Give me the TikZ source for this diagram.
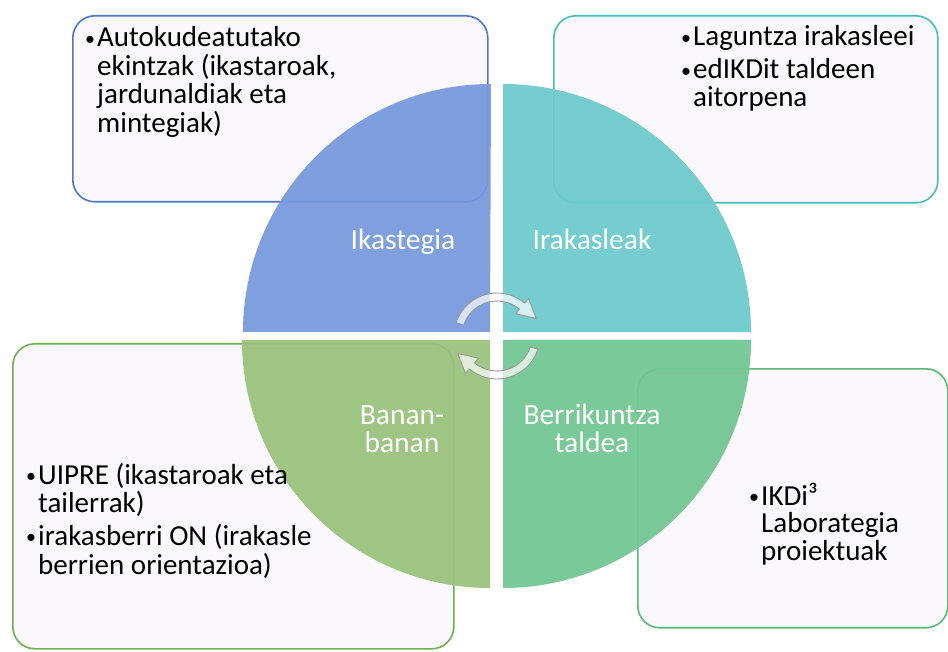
\documentclass[tikz,border=0pt]{standalone}
\usepackage{fontspec}
\setmainfont{Carlito}
\definecolor{boxfill}{HTML}{FAF8FD}
\definecolor{ikasline}{HTML}{4D77CC}
\definecolor{ikasfill}{HTML}{7799DD}
\definecolor{irakline}{HTML}{44BCBE}
\definecolor{irakfill}{HTML}{6DCACC}
\definecolor{bananline}{HTML}{70B04C}
\definecolor{bananfill}{HTML}{99C27B}
\definecolor{berriline}{HTML}{58BD72}
\definecolor{berrifill}{HTML}{72C692}
\newcommand{\listbullet}{\makebox[12pt][l]{\raisebox{1.5pt}{\fontsize{20}{20}\selectfont\textbullet}}}

\begin{document}
\begin{tikzpicture}[x=1pt,y=-1pt]
	\tikzstyle{every node}=[font=\fontsize{29}{25}\selectfont, inner sep=0pt]
	\tikzstyle{box}=[rectangle, draw, line width=1.6pt, rounded corners=22pt, fill=boxfill, anchor=north west]
	\tikzstyle{quarter}=[fill opacity=0.94]
	\tikzstyle{quartertext}=[anchor=base, text=white, font=\fontsize{29.5}{26}\selectfont]
	\tikzstyle{listtext}=[anchor=base west, text=black]
	\tikzstyle{cyclearrow}=[fill=white, fill opacity=0.7, draw=black!40, line width=0.9pt, line join=round]
	\useasboundingbox (0,0) rectangle (948,652);

	\node[box, draw=ikasline, minimum width=415pt, minimum height=186pt] (ikasbox) at (72,15) {};
	\node[box, draw=irakline, minimum width=384pt, minimum height=187pt] (irakbox) at (553,15) {};
	\node[box, draw=bananline, minimum width=441pt, minimum height=305pt] (bananbox) at (12,343) {};
	\node[box, draw=berriline, minimum width=310pt, minimum height=259pt] (berribox) at (637,368) {};

	\fill[quarter, ikasfill] (490,332) -- ++(-247,0) arc[start angle=180, end angle=270, radius=248] -- cycle;
	\fill[quarter, irakfill] (503,332) -- ++(0,-248) arc[start angle=270, end angle=360, radius=248] -- cycle;
	\fill[quarter, berrifill] (503,340) -- ++(248,0) arc[start angle=0, end angle=90, radius=248] -- cycle;
	\fill[quarter, bananfill] (490,340) -- ++(0,248) arc[start angle=90, end angle=180, radius=248] -- cycle;

	\coordinate (C) at (497,336);
	\foreach \turn in {0,180} {
		\draw[cyclearrow, rotate around={\turn:(C)}]
			([shift={(-162:43)}]C) arc[start angle=-162, end angle=-50, radius=43]
			-- ([shift={(-50:49)}]C) -- ([shift={(-24:43)}]C) -- ([shift={(-50:29)}]C)
			-- ([shift={(-50:35)}]C) arc[start angle=-50, end angle=-162, radius=35] -- cycle;
	}

	\node[quartertext] (ikaslabel) at (403,250) {Ikastegia};
	\node[quartertext] (iraklabel) at (592,250) {Irakasleak};
	\node[quartertext] (bananlabel) at (402,424) {\begin{tabular}[t]{@{}c@{}}Banan-\\banan\end{tabular}};
	\node[quartertext] (berrilabel) at (592,424) {\begin{tabular}[t]{@{}c@{}}Berrikuntza\\taldea\end{tabular}};

	\node[listtext] (ikastext) at (85,47) {\begin{tabular}[t]{@{}l@{}l@{}}\listbullet&Autokudeatutako\\&ekintzak (ikastaroak,\\&jardunaldiak eta\\&mintegiak)\end{tabular}};
	\node[listtext] (iraktext) at (681,46) {\begin{tabular}[t]{@{}l@{}l@{}}\listbullet&Laguntza irakasleei\\[5pt]\listbullet&edIKDit taldeen\\&aitorpena\end{tabular}};
	\node[listtext] (banantext) at (26,484) {\begin{tabular}[t]{@{}l@{}l@{}}\listbullet&UIPRE (ikastaroak eta\\&tailerrak)\\[4pt]\listbullet&irakasberri ON (irakasle\\&berrien orientazioa)\end{tabular}};
	\node[listtext] (berritext) at (749,505) {\begin{tabular}[t]{@{}l@{}l@{}}\listbullet&IKDi³\\&Laborategia\\&proiektuak\end{tabular}};
\end{tikzpicture}
\end{document}
